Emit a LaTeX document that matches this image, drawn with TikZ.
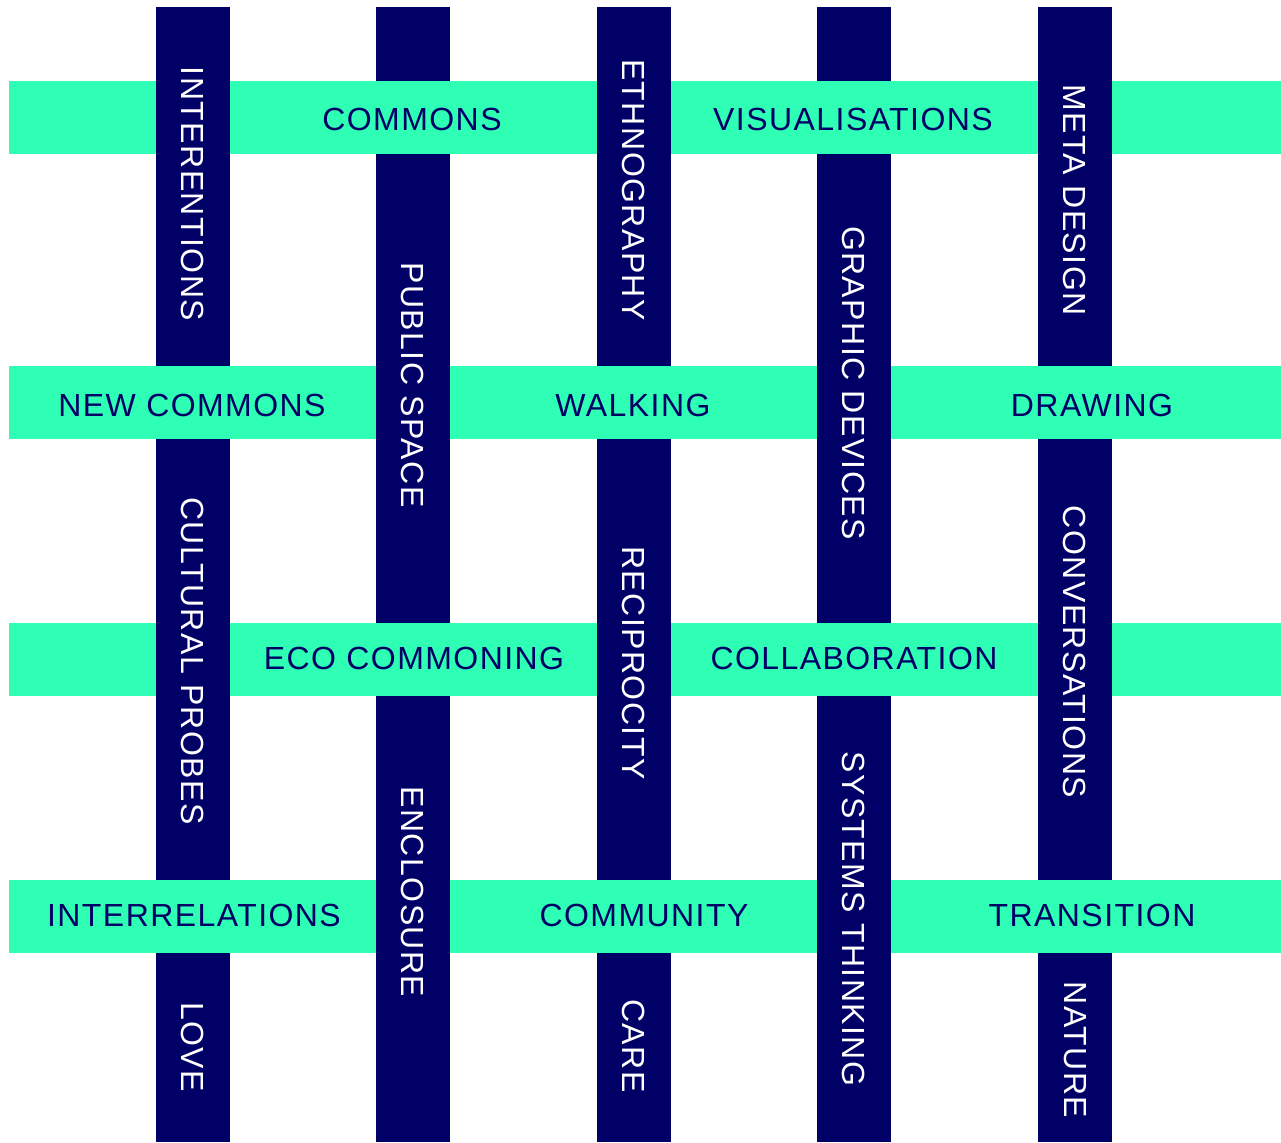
\documentclass[tikz,border=0pt]{standalone}
\usepackage{fontspec}
\setmainfont{Liberation Sans}[LetterSpace=4.5]
\definecolor{navy}{HTML}{000066}
\definecolor{mint}{HTML}{2EFFB4}

\begin{document}
\begin{tikzpicture}[
  x=.5pt,y=-.5pt,font=\fontsize{16}{19}\selectfont,
  weft/.style={fill=mint},
  warp/.style={fill=navy},
  across/.style={text=navy,inner sep=0pt},
  down/.style={text=white,rotate=-90,inner sep=0pt}
]
\path[use as bounding box] (0,0) rectangle (1281,1142);
% horizontal strips, then vertical strips on top
\foreach \y in {117.5,402.5,659.5,916.5}
  \fill[weft] (9,\y-36.5) rectangle (1281,\y+36.5);
\foreach \x in {193,413,634,854,1075}
  \fill[warp] (\x-37,7) rectangle (\x+37,1142);
% where the horizontal strip goes over
\foreach \x/\y in {413/117.5,854/117.5,193/402.5,634/402.5,1075/402.5,
                   413/659.5,854/659.5,193/916.5,634/916.5,1075/916.5}
  \fill[weft] (\x-37.5,\y-36.5) rectangle (\x+37.5,\y+36.5);

% horizontal labels
\node[across] (commons) at (412,119.5) {COMMONS};
\node[across] (visual) at (853,119.5) {VISUALISATIONS};
\node[across] (newcommons) at (192,405) {NEW COMMONS};
\node[across] (walking) at (633,405) {WALKING};
\node[across] (drawing) at (1092,405) {DRAWING};
\node[across] (ecocommon) at (414,658) {ECO COMMONING};
\node[across] (collab) at (854,658) {COLLABORATION};
\node[across] (interrel) at (194,915) {INTERRELATIONS};
\node[across] (community) at (644,915) {COMMUNITY};
\node[across] (transition) at (1092,915) {TRANSITION};

% vertical labels
\node[down] (interv) at (193,194) {INTERENTIONS};
\node[down] (probes) at (193,661) {CULTURAL PROBES};
\node[down] (love) at (193,1047) {LOVE};
\node[down] (public) at (413,385) {PUBLIC SPACE};
\node[down] (enclosure) at (413,892) {ENCLOSURE};
\node[down] (ethno) at (634,190) {ETHNOGRAPHY};
\node[down] (recip) at (634,663) {RECIPROCITY};
\node[down] (care) at (634,1046) {CARE};
\node[down] (graphic) at (854,383) {GRAPHIC DEVICES};
\node[down] (systems) at (854,919) {SYSTEMS THINKING};
\node[down] (meta) at (1075,200) {META DESIGN};
\node[down] (convers) at (1075,652) {CONVERSATIONS};
\node[down] (nature) at (1075,1050) {NATURE};
\end{tikzpicture}
\end{document}
